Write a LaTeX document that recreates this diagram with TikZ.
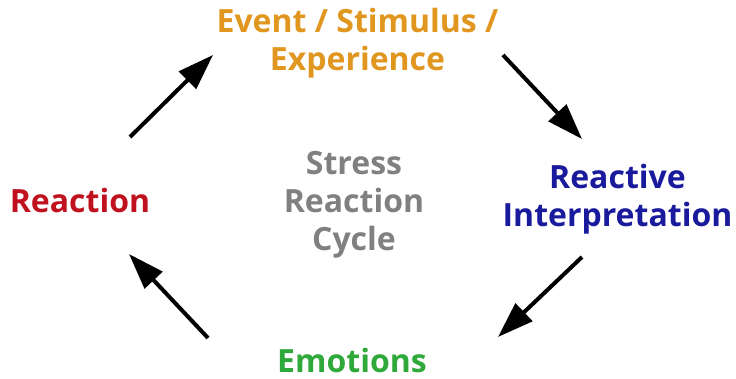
\documentclass[tikz,border=0pt]{standalone}
\usepackage{fontspec}
\setmainfont{Open Sans}
\usetikzlibrary{arrows.meta}
\definecolor{evorange}{HTML}{E0961F}
\definecolor{reacred}{HTML}{C0121E}
\definecolor{interblue}{HTML}{1A1A9C}
\definecolor{emogreen}{HTML}{2FAA3A}
\definecolor{cyclegray}{HTML}{808080}
\tikzset{
  lbl/.style={font=\fontsize{32}{38}\selectfont\bfseries, align=center, inner sep=0pt},
  cyc/.style={line width=4pt, -{Triangle[length=36pt,width=24pt]}},
}
\begin{document}
\begin{tikzpicture}[x=1pt,y=-1pt]
\useasboundingbox (0,0) rectangle (736,379);
\node[lbl, text=evorange] (event) at (357.5,43) {Event / Stimulus /\\Experience};
\node[lbl, text=interblue] (interp) at (617.5,199.5) {Reactive\\Interpretation};
\node[lbl, text=emogreen, anchor=base] (emo) at (352,372) {Emotions};
\node[lbl, text=reacred, anchor=base] (reac) at (80,212.5) {Reaction};
\node[lbl, text=cyclegray] (cycle) at (354,204.5) {Stress\\Reaction\\Cycle};
\coordinate (a1s) at (130,137); \coordinate (a1e) at (213,55);
\coordinate (a2s) at (503,55);  \coordinate (a2e) at (582,139);
\coordinate (a3s) at (582,257); \coordinate (a3e) at (498,337);
\coordinate (a4s) at (208,338); \coordinate (a4e) at (129,254);
\draw[cyc] (a1s) -- (a1e);
\draw[cyc] (a2s) -- (a2e);
\draw[cyc] (a3s) -- (a3e);
\draw[cyc] (a4s) -- (a4e);
\end{tikzpicture}
\end{document}
